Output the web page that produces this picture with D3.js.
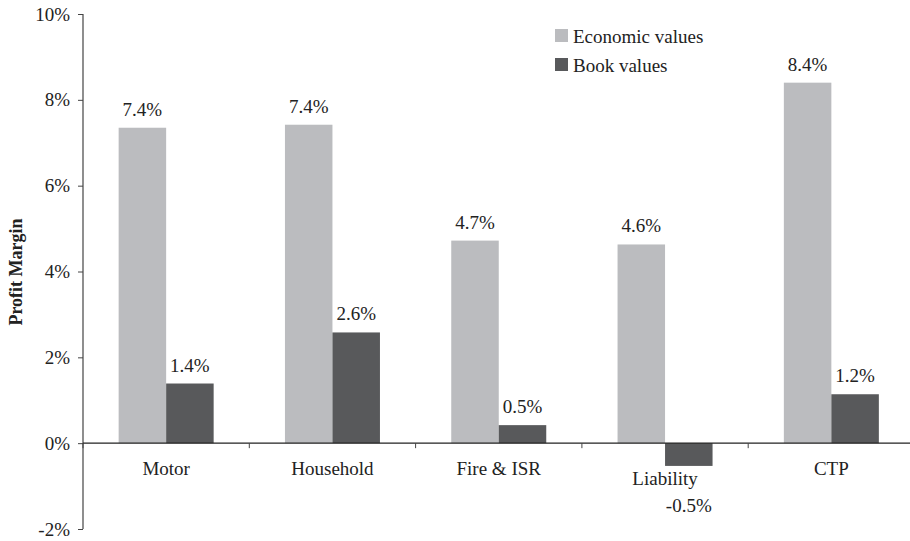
<!DOCTYPE html>
<html><head><meta charset="utf-8">
<script src="https://cdn.jsdelivr.net/npm/d3@7"></script>
<style>
body{margin:0;background:#fff;}
svg text{font-family:"Liberation Serif","Times New Roman",serif;fill:#222;}
</style></head>
<body><svg id="c" width="910" height="541"></svg>
<script>
const categories = ["Motor","Household","Fire & ISR","Liability","CTP"];
const seriesNames = ["Economic values","Book values"];
const economic = [7.35, 7.42, 4.72, 4.63, 8.40];
const book = [1.39, 2.58, 0.42, -0.53, 1.14];
const economicLabels = ["7.4%","7.4%","4.7%","4.6%","8.4%"];
const bookLabels = ["1.4%","2.6%","0.5%","-0.5%","1.2%"];
const yTicks = [-2,0,2,4,6,8,10];
const colors = ["#bbbcbf","#58595b"];

const FS = "19px";
const svg = d3.select("#c");
const x = d3.scaleBand().domain(categories).range([83, 914.5]).paddingInner(0).paddingOuter(0);
const y = d3.scaleLinear().domain([-2,10]).range([529, 14]);
const bw = 47.5;

// y axis
const ya = svg.append("g").attr("transform","translate(83,0)")
  .call(d3.axisLeft(y).tickValues(yTicks).tickFormat(d=>d+"%").tickSize(5).tickPadding(8));
ya.select(".domain").attr("stroke","#444").attr("stroke-width",1.2).attr("d","M0,"+y(10)+"V"+y(-2));
ya.selectAll(".tick line").attr("stroke","#444");
ya.selectAll(".tick text").style("font-size",FS).attr("fill","#222").style("font-family","Liberation Serif");

// bars
const data = categories.map((c,i)=>({c, v:[economic[i], book[i]], l:[economicLabels[i], bookLabels[i]]}));
const g = svg.append("g");
data.forEach(d=>{
  d.v.forEach((v,j)=>{
    const x0 = x(d.c) + x.bandwidth()/2 - bw + j*bw;
    g.append("rect").attr("x",x0).attr("width",bw)
      .attr("y",y(Math.max(0,v))).attr("height",Math.abs(y(v)-y(0)))
      .attr("fill",colors[j]);
    const ly = v>=0 ? y(v)-12 : y(0)+69;
    g.append("text").attr("x",x0+bw/2).attr("y",ly).attr("text-anchor","middle")
      .style("font-size",FS).text(d.l[j]);
  });
});

// zero line with category dividers
const xa = svg.append("g").attr("transform","translate(0,"+y(0)+")")
  .call(d3.axisBottom(x).tickSize(0).tickFormat(""));
xa.select(".domain").attr("stroke","#222").attr("stroke-width",1.3).attr("d","M83,0H910");
xa.selectAll(".tick").remove();
categories.forEach((c,i)=>{
  xa.append("line").attr("x1",x(c)).attr("x2",x(c)).attr("y1",0).attr("y2",5).attr("stroke","#444");
});
categories.forEach((c,i)=>{
  const neg = book[i] < 0;
  svg.append("text").attr("x",x(c)+x.bandwidth()/2).attr("y",y(0)+(neg?42:32))
    .attr("text-anchor","middle").style("font-size",FS).text(c);
});

// y label
svg.append("text").attr("transform","translate(22,272) rotate(-90)")
  .attr("text-anchor","middle").style("font-size","18px").style("font-weight","bold").text("Profit Margin");

// legend
const lg = svg.append("g").attr("transform","translate(555,29)");
seriesNames.forEach((s,i)=>{
  lg.append("rect").attr("x",0).attr("y",i*29).attr("width",13).attr("height",13).attr("fill",colors[i]);
  lg.append("text").attr("x",18).attr("y",i*29+14).style("font-size",FS).text(s);
});
</script></body></html>
